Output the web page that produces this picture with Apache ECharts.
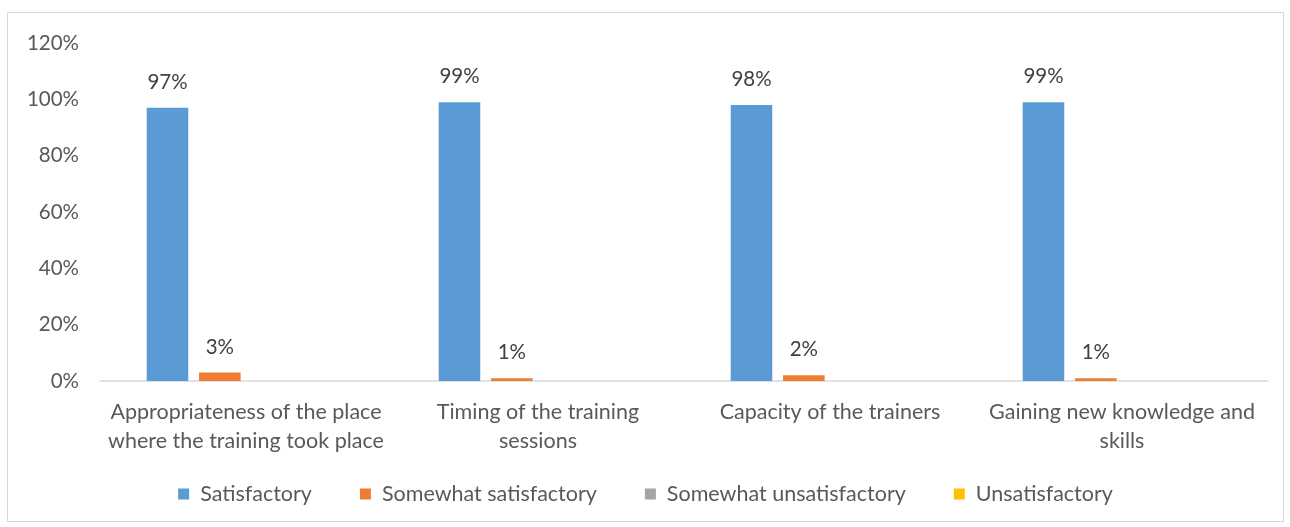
<!DOCTYPE html>
<html>
<head>
<meta charset="utf-8">
<script src="https://cdn.jsdelivr.net/npm/echarts@6/dist/echarts.min.js"></script>
<style>
  html, body { margin: 0; padding: 0; background: #fff; }
  #chart { position: absolute; left: 7px; top: 12px; width: 1277px; height: 510px; border: 1px solid #d9d9d9; box-sizing: border-box; }
</style>
</head>
<body>
<div id="chart"></div>
<script>
const categories = [
  "Appropriateness of the place\nwhere the training took place",
  "Timing of the training\nsessions",
  "Capacity of the trainers",
  "Gaining new knowledge and\nskills"
];
const seriesNames = ["Satisfactory", "Somewhat satisfactory", "Somewhat unsatisfactory", "Unsatisfactory"];
const satisfactory = [97, 99, 98, 99];
const somewhatSatisfactory = [3, 1, 2, 1];
const somewhatUnsatisfactory = [0, 0, 0, 0];
const unsatisfactory = [0, 0, 0, 0];
const colors = ["#5b9bd5", "#ed7d31", "#a5a5a5", "#ffc000"];

const font = "Lato, 'Open Sans', sans-serif";
const allData = [satisfactory, somewhatSatisfactory, somewhatUnsatisfactory, unsatisfactory];

const chart = echarts.init(document.getElementById('chart'));
chart.setOption({
  animation: false,
  color: colors,
  grid: { left: 92, right: 15, top: 30, bottom: 140 },
  legend: {
    bottom: 11,
    itemWidth: 11, itemHeight: 11, itemGap: 48,
    icon: 'rect',
    textStyle: { fontFamily: font, fontSize: 21.5, color: '#595959', padding: [0, 0, 0, 6] },
    data: seriesNames
  },
  xAxis: {
    type: 'category',
    data: categories,
    axisLine: { lineStyle: { color: '#d9d9d9', width: 1.5 } },
    axisTick: { show: false },
    axisLabel: { fontFamily: font, fontSize: 21.5, color: '#595959', lineHeight: 29, margin: 17, interval: 0 }
  },
  yAxis: {
    type: 'value',
    min: 0, max: 120, interval: 20,
    splitLine: { show: false },
    axisLabel: { fontFamily: font, fontSize: 20.5, color: '#595959', margin: 21, formatter: '{value}%' }
  },
  series: allData.map((d, i) => ({
    name: seriesNames[i],
    type: 'bar',
    data: d,
    barGap: '26%',
    barCategoryGap: '32%',
    label: {
      show: true, position: 'top', distance: 15,
      fontFamily: font, fontSize: 20.5, color: '#404040',
      formatter: p => p.value ? p.value + '%' : ''
    }
  }))
});
</script>
</body>
</html>
